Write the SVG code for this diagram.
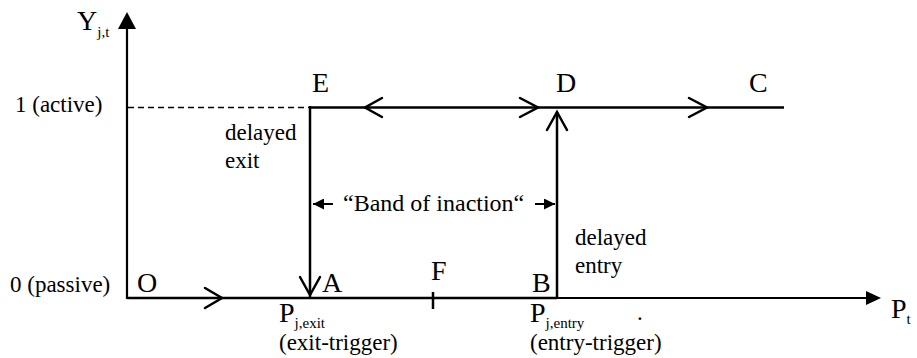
<svg xmlns="http://www.w3.org/2000/svg" width="917" height="358" viewBox="0 0 917 358" font-family="'Liberation Serif', Tinos, 'Times New Roman', 'DejaVu Serif', serif">
<style>
text{font-family:"Liberation Serif",Tinos,"Times New Roman","DejaVu Serif",serif;font-size:23px;fill:#000}
.sub{font-size:15px}
.nd{font-size:28px}
.ln{stroke:#000;stroke-width:2.5;fill:none}
.ax{stroke:#000;stroke-width:2.2;fill:none}
.chev{stroke:#000;stroke-width:2.5;fill:none;stroke-linecap:round;stroke-linejoin:miter}
</style>
<defs>
<marker id="tri" viewBox="0 0 10 10" refX="10" refY="5" markerWidth="12" markerHeight="11" markerUnits="userSpaceOnUse" orient="auto"><path d="M0,0L10,5L0,10z" fill="#000"/></marker>
</defs>
<rect width="917" height="358" fill="#fff"/>
<g id="axes">
<line class="ax" x1="127" y1="299" x2="127" y2="26"/>
<path d="M118,29L127,12L136,29z" fill="#000"/>
<line class="ax" x1="127" y1="298" x2="868" y2="298"/>
<path d="M866,291L881,298L866,305z" fill="#000"/>
<text class="nd" x="77" y="30">Y<tspan class="sub" dy="7">j,t</tspan></text>
<text class="nd" x="891" y="318">P<tspan class="sub" dy="6">t</tspan></text>
<text x="15" y="112">1 (active)</text>
<text x="10" y="292">0 (passive)</text>
</g>
<g id="connectors">
<line x1="128" y1="107.5" x2="310" y2="107.5" stroke="#000" stroke-width="1.6" stroke-dasharray="6,4"/>
<line class="ln" x1="127" y1="298" x2="557" y2="298"/>
<line class="ln" x1="310" y1="106" x2="310" y2="297"/>
<line class="ln" x1="309" y1="107.5" x2="784" y2="107.5"/>
<line class="ln" x1="557" y1="297" x2="557" y2="112"/>
<path class="chev" d="M382,98L365,107.5L382,117"/>
<path class="chev" d="M520,98L538,107.5L520,117"/>
<path class="chev" d="M689,98L707,107.5L689,117"/>
<path class="chev" d="M547,130L557,112L567,130"/>
<path class="chev" d="M300,277L310,295L320,277"/>
<path class="chev" d="M205,288L222,298L205,308"/>
<line class="ln" x1="433" y1="292" x2="433" y2="309"/>
<line stroke="#000" stroke-width="2" x1="333" y1="204" x2="313" y2="204" marker-end="url(#tri)"/>
<line stroke="#000" stroke-width="2" x1="535" y1="204" x2="555" y2="204" marker-end="url(#tri)"/>
</g>
<g id="node-E"><text class="nd" x="312" y="92">E</text></g>
<g id="node-D"><text class="nd" x="556" y="92">D</text></g>
<g id="node-C"><text class="nd" x="749" y="92">C</text></g>
<g id="node-O"><text class="nd" x="137" y="292">O</text></g>
<g id="node-A"><text class="nd" x="322" y="292">A</text></g>
<g id="node-F"><text class="nd" x="431" y="280">F</text></g>
<g id="node-B"><text class="nd" x="532" y="292">B</text></g>
<g id="labels">
<text x="225" y="140">delayed</text>
<text x="225" y="168">exit</text>
<text x="575" y="245">delayed</text>
<text x="575" y="273">entry</text>
<text x="343" y="211" style="font-size:24px">“Band of inaction“</text>
<text class="nd" x="279" y="322">P<tspan class="sub" dy="6">j,exit</tspan></text>
<text x="279" y="350">(exit-trigger)</text>
<text class="nd" x="530" y="322">P<tspan class="sub" dy="6">j,entry</tspan></text>
<text x="530" y="350">(entry-trigger)</text>
<text x="637" y="320">.</text>
</g>
</svg>
